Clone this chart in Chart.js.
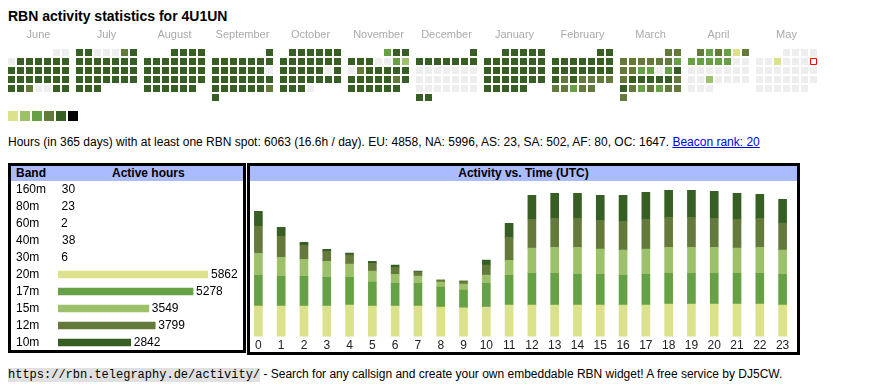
<!DOCTYPE html>
<html lang="en">
<head>
<meta charset="UTF-8" />
<title>RBN activity statistics for 4U1UN</title>
<script src="https://cdn.jsdelivr.net/npm/chart.js@4"></script>
<style>
  body { margin: 0; background: #fff; font-family: Arial, "Liberation Sans", sans-serif; color: #000; }
  #page { position: relative; width: 870px; height: 390px; overflow: hidden; }
  h1 { position: absolute; left: 8px; top: 7px; margin: 0; font-size: 14px; line-height: 18px; }
  canvas { position: absolute; }
  .swatches { position: absolute; left: 8px; top: 111px; display: flex; gap: 2px; }
  .swatches span { display: block; width: 10px; height: 10px; }
  #summary { position: absolute; left: 8px; top: 135px; font-size: 12px; line-height: 14px; white-space: nowrap; }
  #summary a { color: #00e; }
  .box { position: absolute; border: 3px solid #000; box-sizing: border-box; }
  .head { background: #aabbff; height: 15px; line-height: 15px; font-size: 12px; font-weight: bold; position: relative; }
  #band-box { left: 8px; top: 163px; width: 238px; height: 190px; }
  #time-box { left: 247px; top: 163px; width: 553px; height: 192px; }
  #footer { position: absolute; left: 8px; top: 367px; font-size: 12px; line-height: 14px; white-space: nowrap; }
  #footer code { font-family: "Liberation Mono", monospace; font-size: 12px; background: #e0e0e0; }
</style>
</head>
<body>
<div id="page">
  <h1>RBN activity statistics for 4U1UN</h1>
  <canvas id="heat" width="818" height="84" style="left:0;top:20px"></canvas>
  <div class="swatches" id="swatches"></div>
  <div id="summary">Hours (in 365 days) with at least one RBN spot: 6063 (16.6h / day). EU: 4858, NA: 5996, AS: 23, SA: 502, AF: 80, OC: 1647. <a href="#">Beacon rank: 20</a></div>

  <div class="box" id="band-box">
    <div class="head"><span style="position:absolute;left:5px">Band</span><span style="position:absolute;left:101px">Active hours</span></div>
  </div>
  <div class="box" id="time-box">
    <div class="head" style="text-align:center">Activity vs. Time (UTC)</div>
  </div>
  <canvas id="bands" width="227" height="170" style="left:16px;top:181px"></canvas>
  <canvas id="hours" width="547" height="172" style="left:247px;top:183px"></canvas>

  <div id="footer"><code>https://rbn.telegraphy.de/activity/</code> - Search for any callsign and create your own embeddable RBN widget! A free service by DJ5CW.</div>
</div>

<script>
// calendar: one string per month, one digit per day (0 = no spots, 1..5 = activity level)
const months = ['June', 'July', 'August', 'September', 'October', 'November', 'December', 'January', 'February', 'March', 'April', 'May'];
const startYear = 2024, startMonth = 5;
const monthLevels = [
  '00 0555555 5555555 5555555 5540055',
  '5500045 5555555 5555555 5555555 555',
  '5555 5555555 5555555 5555555 555555',
  '5 5555555 5555550 5555555 5555554 5',
  '555555 5555555 5555505 5555555 5550',
  '355 5550032 0455555 5555545 555555',
  '5 5555555 0000000 0000000 0000000 55',
  '55555 5555555 5555555 5555555 55555',
  '55 5555555 5555555 5454444 44344',
  '44 4444443 4433035 4555554 5434344 4',
  '434314 3333300 0000000 0020000 000',
  '0000 0010000 0000000 0000000 000000'
];
const today = { month: 11, day: 11 };
const levelColors = ['#eeeeee', '#dbe28b', '#9dc16a', '#67a146', '#637a3a', '#375f24', '#000000'];

// band table
const bands = ['160m', '80m', '60m', '40m', '30m', '20m', '17m', '15m', '12m', '10m'];
const bandHours = [30, 23, 2, 38, 6, 5862, 5278, 3549, 3799, 2842];
const bandColors = ['transparent', 'transparent', 'transparent', 'transparent', 'transparent', '#dbe28b', '#67a146', '#9dc16a', '#637a3a', '#375f24'];

// activity vs. time, hours per UTC hour and band
const utcHours = ['0','1','2','3','4','5','6','7','8','9','10','11','12','13','14','15','16','17','18','19','20','21','22','23'];
const hours20m = [239, 239, 239, 239, 247, 239, 239, 239, 231, 224, 231, 247, 247, 247, 247, 247, 247, 247, 255, 255, 255, 255, 255, 247];
const hours17m = [240, 232, 232, 224, 217, 186, 178, 178, 155, 139, 186, 232, 248, 248, 240, 240, 232, 240, 240, 240, 240, 240, 240, 240];
const hours15m = [172, 149, 133, 125, 102, 86, 70, 55, 39, 47, 63, 117, 196, 203, 211, 196, 196, 196, 203, 203, 203, 196, 203, 188];
const hours12m = [211, 164, 109, 78, 70, 62, 55, 34, 16, 23, 78, 179, 226, 226, 226, 226, 226, 234, 234, 234, 226, 226, 226, 211];
const hours10m = [117, 70, 23, 16, 16, 16, 16, 5, 0, 0, 39, 109, 187, 195, 195, 195, 203, 211, 211, 211, 211, 203, 187, 187];

const monthSpan = 7 + 5 / 9; // 7 day columns plus a small gap, in cell units

// legend swatches
const sw = document.getElementById('swatches');
levelColors.slice(1).forEach(c => {
  const s = document.createElement('span');
  s.style.background = c;
  sw.appendChild(s);
});

// build calendar points
const cells = [];
let todayPoint = null;
monthLevels.forEach((str, m) => {
  const levels = str.replace(/ /g, '');
  const first = (new Date(startYear, startMonth + m, 1).getDay() + 6) % 7;
  for (let d = 0; d < levels.length; d++) {
    const pos = first + d;
    const pt = { x: m * monthSpan + pos % 7, y: Math.floor(pos / 7), level: +levels[d] };
    if (m === today.month && d + 1 === today.day) todayPoint = pt;
    else cells.push(pt);
  }
});

const monthLabels = {
  id: 'monthLabels',
  afterDraw(chart) {
    const ctx = chart.ctx, xs = chart.scales.x;
    ctx.save();
    ctx.font = '11px Arial';
    ctx.fillStyle = '#aaaaaa';
    ctx.textAlign = 'center';
    ctx.textBaseline = 'middle';
    months.forEach((name, m) => ctx.fillText(name, xs.getPixelForValue(m * monthSpan + 3), chart.chartArea.top - 13));
    ctx.restore();
  }
};

new Chart(document.getElementById('heat'), {
  type: 'scatter',
  data: {
    datasets: [{
      data: cells,
      pointStyle: 'rect',
      pointRadius: 4.95,
      borderWidth: 0,
      backgroundColor: ctx => levelColors[ctx.raw ? ctx.raw.level : 0]
    }, {
      data: [todayPoint],
      pointStyle: 'rect',
      pointRadius: 4.243,
      borderWidth: 1,
      borderColor: '#ff0000',
      backgroundColor: '#ffffff'
    }]
  },
  options: {
    responsive: false,
    animation: false,
    events: [],
    layout: { autoPadding: false, padding: { top: 28, left: 8, bottom: 2, right: 0 } },
    plugins: { legend: { display: false }, tooltip: { enabled: false } },
    scales: {
      x: { display: false, min: -3.5 / 9, max: -3.5 / 9 + 90 },
      y: { display: false, reverse: true, min: -0.5, max: 5.5 }
    }
  },
  plugins: [monthLabels]
});

// numbers after each band bar
const barValues = {
  id: 'barValues',
  afterDatasetsDraw(chart) {
    const ctx = chart.ctx;
    const meta = chart.getDatasetMeta(0);
    ctx.save();
    ctx.font = '12px Arial';
    ctx.fillStyle = '#000';
    ctx.textBaseline = 'middle';
    meta.data.forEach((bar, i) => ctx.fillText(bandHours[i], bar.x + 3, bar.y));
    ctx.restore();
  }
};

new Chart(document.getElementById('bands'), {
  type: 'bar',
  data: {
    labels: bands,
    datasets: [{ data: bandHours, backgroundColor: bandColors, barThickness: 7 }]
  },
  options: {
    indexAxis: 'y',
    responsive: false,
    animation: false,
    events: [],
    layout: { autoPadding: false, padding: { right: 35 } },
    plugins: { legend: { display: false }, tooltip: { enabled: false } },
    scales: {
      x: { display: false, min: 0, max: Math.max(...bandHours) },
      y: {
        afterFit: s => { s.width = 42; s.paddingTop = 0; s.paddingBottom = 0; },
        grid: { display: false, drawTicks: false },
        border: { display: false },
        ticks: { autoSkip: false, crossAlign: 'far', padding: 0, color: '#000', font: { family: 'Arial', size: 12 } }
      }
    }
  },
  plugins: [barValues]
});

new Chart(document.getElementById('hours'), {
  type: 'bar',
  data: {
    labels: utcHours,
    datasets: [
      { label: '20m', data: hours20m, backgroundColor: '#dbe28b' },
      { label: '17m', data: hours17m, backgroundColor: '#67a146' },
      { label: '15m', data: hours15m, backgroundColor: '#9dc16a' },
      { label: '12m', data: hours12m, backgroundColor: '#637a3a' },
      { label: '10m', data: hours10m, backgroundColor: '#375f24' }
    ]
  },
  options: {
    responsive: false,
    animation: false,
    events: [],
    datasets: { bar: { barThickness: 8 } },
    plugins: { legend: { display: false }, tooltip: { enabled: false } },
    scales: {
      x: {
        stacked: true,
        grid: { display: false, drawTicks: false },
        border: { display: false },
        ticks: { padding: 2, maxRotation: 0, autoSkip: false, color: '#222', font: { family: 'Arial', size: 12 } }
      },
      y: { stacked: true, display: false, min: 0, max: 1200 }
    }
  }
});
</script>
</body>
</html>
